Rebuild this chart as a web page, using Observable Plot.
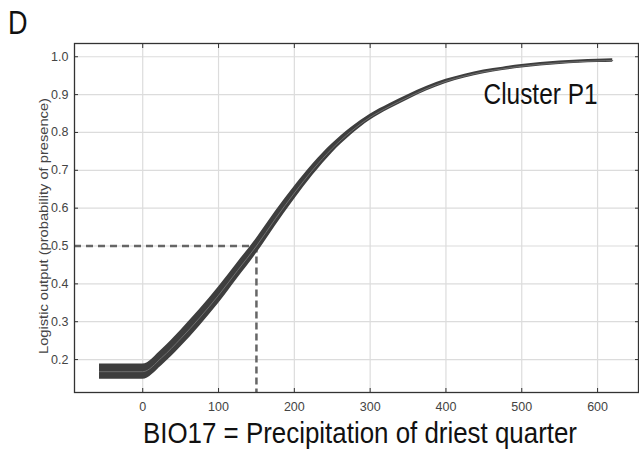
<!DOCTYPE html>
<html>
<head>
<meta charset="utf-8">
<script src="https://cdn.jsdelivr.net/npm/d3@7"></script>
<script src="https://cdn.jsdelivr.net/npm/@observablehq/plot@0.6"></script>
<style>
  body { margin: 0; background: #fff; }
  #wrap { position: relative; width: 639px; height: 451px; overflow: hidden; }
  #panel { position: absolute; left: 8px; top: 6px; font-family: "Liberation Sans", Arial, sans-serif; font-size: 33px; color: #111; line-height: 1; transform: scaleX(0.82); transform-origin: left top; }
  #xcap { position: absolute; left: 0; top: 416px; white-space: nowrap; font-family: "Liberation Sans", Arial, sans-serif; font-size: 30px; line-height: 34px; color: #111; transform-origin: left top; }
</style>
</head>
<body>
<div id="wrap"><div id="panel"></div><div id="xcap"></div></div>
<script>
// ---- data ----
const panelLabel = "D";
const seriesLabel = "Cluster P1";
const xLabel = "BIO17 = Precipitation of driest quarter";
const yLabel = "Logistic output (probability of presence)";
const xTicks = [0, 100, 200, 300, 400, 500, 600];
const yTicks = [0.2, 0.3, 0.4, 0.5, 0.6, 0.7, 0.8, 0.9, 1.0];
const xDomain = [-90, 654];
const yDomain = [0.113, 1.035];
const xVals  = [-57, 0, 25, 50, 75, 100, 125, 150, 175, 200, 225, 250, 275, 300, 325, 350, 375, 400, 425, 450, 475, 500, 525, 550, 575, 600, 620];
const yMean  = [0.168, 0.168, 0.205, 0.255, 0.31, 0.37, 0.435, 0.5, 0.572, 0.64, 0.703, 0.758, 0.803, 0.84, 0.868, 0.893, 0.916, 0.935, 0.949, 0.96, 0.968, 0.975, 0.98, 0.984, 0.987, 0.989, 0.99];
const ySpread = [0.02, 0.02, 0.021, 0.022, 0.022, 0.022, 0.021, 0.02, 0.019, 0.017, 0.015, 0.012, 0.01, 0.008, 0.007, 0.0065, 0.006, 0.0055, 0.005, 0.005, 0.0045, 0.0045, 0.0045, 0.0045, 0.0045, 0.0045, 0.0045];
const threshold = 0.5;
const xAtThreshold = 150;

document.getElementById("panel").textContent = panelLabel;

const data = xVals.map((x, i) => ({x, y: yMean[i], lo: yMean[i] - ySpread[i], hi: yMean[i] + ySpread[i]}));

const sans = "'Liberation Sans', Arial, sans-serif";

const chart = Plot.plot({
  width: 639,
  height: 417,
  marginLeft: 74,
  marginRight: 1,
  marginTop: 43,
  marginBottom: 25,
  style: {fontFamily: sans, background: "transparent", overflow: "visible"},
  x: {domain: xDomain},
  y: {domain: yDomain},
  marks: [
    Plot.gridX(xTicks, {stroke: "#dcdcdc", strokeOpacity: 1, strokeWidth: 1.2}),
    Plot.gridY(yTicks, {stroke: "#dcdcdc", strokeOpacity: 1, strokeWidth: 1.2}),
    Plot.axisX(xTicks, {anchor: "bottom", tickSize: 0, tickPadding: 10, fontSize: 12.5, fill: "#444", label: null, tickFormat: d => String(d)}),
    Plot.axisY(yTicks, {anchor: "left", tickSize: 0, tickPadding: 6, fontSize: 12.5, fill: "#444", label: null, tickFormat: d3.format(".1f")}),
    Plot.axisX(xTicks, {anchor: "bottom", tickSize: -4, fill: "none", stroke: "#333", label: null}),
    Plot.axisX(xTicks, {anchor: "top", tickSize: -4, fill: "none", stroke: "#333", label: null}),
    Plot.axisY(yTicks, {anchor: "left", tickSize: -4, fill: "none", stroke: "#333", label: null}),
    Plot.axisY(yTicks, {anchor: "right", tickSize: -4, fill: "none", stroke: "#333", label: null}),
    Plot.ruleY([threshold], {x1: xDomain[0], x2: xAtThreshold, stroke: "#666", strokeWidth: 2.5, strokeDasharray: "7,5"}),
    Plot.ruleX([xAtThreshold], {y1: threshold, y2: yDomain[0], stroke: "#666", strokeWidth: 2.5, strokeDasharray: "7,4"}),
    Plot.areaY(data, {x: "x", y1: "lo", y2: "hi", fill: "#3e3e3e", curve: "monotone-x"}),
    Plot.line(data, {x: "x", y: "y", stroke: "#6e6e6e", strokeWidth: 1, curve: "monotone-x"}),
    Plot.frame({stroke: "#333", strokeWidth: 1.3}),
    Plot.text([seriesLabel], {frameAnchor: "top-right", text: d => d, textAnchor: "end", lineAnchor: "middle", dx: -41, dy: 51, fontSize: 29, fill: "#111", className: "lbl-series"}),
    Plot.text([yLabel], {frameAnchor: "left", text: d => d, textAnchor: "middle", rotate: -90, lineAnchor: "middle", dx: -31, dy: 8, fontSize: 12.5, fill: "#444", className: "lbl-y"})
  ]
});
// condensed look (the reference uses a narrow sans)
const squeeze = {"lbl-series": 114, "lbl-y": 256};
for (const [cls, len] of Object.entries(squeeze)) {
  d3.select(chart).selectAll(`g.${cls} text`).attr("textLength", len).attr("lengthAdjust", "spacingAndGlyphs");
}
const wrap = document.getElementById("wrap");
wrap.insertBefore(chart, wrap.firstChild);
chart.style.position = "absolute";
chart.style.left = "0px";
chart.style.top = "0px";

// x-axis caption below the SVG, condensed to the reference width and centred under the frame
const cap = document.getElementById("xcap");
cap.textContent = xLabel;
const capWidth = 434, capCenter = 360;
const natural = cap.getBoundingClientRect().width;
const s = capWidth / natural;
cap.style.left = (capCenter - capWidth / 2) + "px";
cap.style.transform = `scaleX(${s})`;
</script>
</body>
</html>
